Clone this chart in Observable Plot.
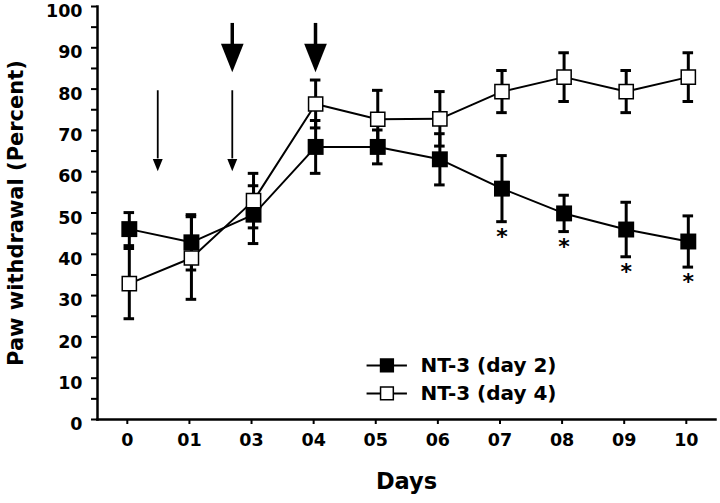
<!DOCTYPE html>
<html>
<head>
<meta charset="utf-8">
<script src="https://cdn.jsdelivr.net/npm/d3@7"></script>
<script src="https://cdn.jsdelivr.net/npm/@observablehq/plot@0.6"></script>
<style>
  body { margin: 0; background: #fff; }
  svg { display: block; overflow: visible; }
</style>
</head>
<body>
<div id="chart"></div>
<script>
// ---- data ----
const dayLabels = ["0", "01", "03", "04", "05", "06", "07", "08", "09", "10"];
const day2Mean = [46.1, 42.9, 49.6, 66.0, 66.0, 63.0, 55.9, 49.9, 46.0, 43.1];
const day2Err  = [4.0, 6.7, 7.0, 6.4, 4.1, 6.2, 8.0, 4.4, 6.6, 6.2];
const day4Mean = [32.9, 39.1, 53.0, 76.4, 72.7, 72.8, 79.4, 82.9, 79.4, 82.9];
const day4Err  = [8.5, 10.0, 6.6, 5.8, 7.0, 6.6, 5.1, 5.9, 5.1, 5.9];
const significant = [false, false, false, false, false, false, true, true, true, true];
const seriesNames = ["NT-3 (day 2)", "NT-3 (day 4)"];
const yTicks = d3.range(0, 101, 10);
const yMinorTicks = d3.range(0, 101, 5);
// arrows: position between days, top value, tip value, kind
const arrows = [
  {pos: 0.49, top: 79.6, tip: 60.1, kind: "thin"},
  {pos: 1.69, top: 79.6, tip: 60.1, kind: "thin"},
  {pos: 1.69, top: 95.9, tip: 84.1, kind: "big"},
  {pos: 3.03, top: 95.9, tip: 84.1, kind: "big"}
];

// ---- build rows ----
const rows = [];
dayLabels.forEach((d, i) => {
  rows.push({i, series: seriesNames[0], mean: day2Mean[i], err: day2Err[i], sig: significant[i]});
  rows.push({i, series: seriesNames[1], mean: day4Mean[i], err: day4Err[i], sig: false});
});
const s2 = rows.filter(r => r.series === seriesNames[0]);
const s4 = rows.filter(r => r.series === seriesNames[1]);
const legendRows = [
  {series: seriesNames[0], y: 13.1, fill: "black"},
  {series: seriesNames[1], y: 6.3, fill: "white"}
];

const arrowHead = {
  draw(ctx, size) {
    const w = Math.sqrt(size);
    const h = w * 1.25;
    ctx.moveTo(0, 0);
    ctx.lineTo(-w / 2, -h);
    ctx.lineTo(w / 2, -h);
    ctx.closePath();
  }
};

const font = "'DejaVu Sans', Verdana, sans-serif";
const capW = 0.085;
const dxm = 2;

function seriesMarks(data) {
  return [
    Plot.ruleX(data, {x: "i", y1: d => d.mean - d.err, y2: d => d.mean + d.err, strokeWidth: 3, stroke: "black", dx: dxm}),
    Plot.ruleY(data, {x1: d => d.i - capW, x2: d => d.i + capW, y: d => d.mean + d.err, strokeWidth: 3, stroke: "black", dx: dxm}),
    Plot.ruleY(data, {x1: d => d.i - capW, x2: d => d.i + capW, y: d => d.mean - d.err, strokeWidth: 3, stroke: "black", dx: dxm})
  ];
}

const chart = Plot.plot({
  width: 720,
  height: 503,
  marginLeft: 97,
  marginRight: 5,
  marginTop: 6,
  marginBottom: 84,
  style: {fontFamily: font, fontWeight: "bold", fontSize: "17.5px", color: "black", background: "white"},
  x: {type: "linear", domain: [-0.48, 9.47], axis: null},
  y: {domain: [0, 100], axis: null},
  marks: [
    // axes
    Plot.axisY({ticks: yMinorTicks, tickSize: 6, text: null, strokeWidth: 2}),
    Plot.axisY({ticks: yTicks, tickSize: 0, tickPadding: 15, label: null, dy: 5}),
    Plot.axisX({ticks: d3.range(dayLabels.length), tickFormat: i => dayLabels[i], tickSize: 5, tickPadding: 9, label: null, strokeWidth: 2}),
    Plot.frame({anchor: "left", strokeWidth: 2.5}),
    Plot.frame({anchor: "bottom", strokeWidth: 2.5}),
    // axis titles
    Plot.text(["Days"], {frameAnchor: "bottom", dy: 69, fontSize: 22.5, fontWeight: "bold"}),
    Plot.text(["Paw withdrawal (Percent)"], {frameAnchor: "left", textAnchor: "middle", dx: -81, rotate: -90, fontSize: 21, fontWeight: "bold"}),
    // arrows
    Plot.ruleX(arrows.filter(a => a.kind === "thin"), {x: "pos", y1: "top", y2: d => d.tip + 3, strokeWidth: 1.8, stroke: "black"}),
    Plot.dot(arrows.filter(a => a.kind === "thin"), {x: "pos", y: "tip", symbol: arrowHead, r: 5.6, fill: "black", stroke: "none"}),
    Plot.ruleX(arrows.filter(a => a.kind === "big"), {x: "pos", y1: "top", y2: d => d.tip + 4, strokeWidth: 3.5, stroke: "black"}),
    Plot.dot(arrows.filter(a => a.kind === "big"), {x: "pos", y: "tip", symbol: arrowHead, r: 12.8, fill: "black", stroke: "none"}),
    // lines
    Plot.line(s2, {x: "i", y: "mean", stroke: "black", strokeWidth: 2, dx: dxm}),
    Plot.line(s4, {x: "i", y: "mean", stroke: "black", strokeWidth: 2, dx: dxm}),
    // error bars
    ...seriesMarks(s2),
    ...seriesMarks(s4),
    // markers
    Plot.dot(s2, {x: "i", y: "mean", symbol: "square", r: 9, fill: "black", stroke: "none", dx: dxm}),
    Plot.dot(s4, {x: "i", y: "mean", symbol: "square", r: 8, fill: "white", stroke: "black", strokeWidth: 1.5, dx: dxm}),
    // significance
    Plot.text(s2.filter(d => d.sig), {x: "i", y: d => d.mean - d.err, text: () => "*", dy: 15, dx: dxm, fontSize: 22, fontWeight: "bold"}),
    // legend
    Plot.ruleY(legendRows, {x1: 3.86, x2: 4.51, y: "y", stroke: "black", strokeWidth: 2}),
    Plot.dot(legendRows, {x: 4.18, y: "y", symbol: "square", r: 7.2, fill: "fill", stroke: "black", strokeWidth: 1.5}),
    Plot.text(legendRows, {x: 4.72, y: "y", text: "series", textAnchor: "start", fontSize: 20, fontWeight: "bold"})
  ]
});
document.getElementById("chart").append(chart);
</script>
</body>
</html>
